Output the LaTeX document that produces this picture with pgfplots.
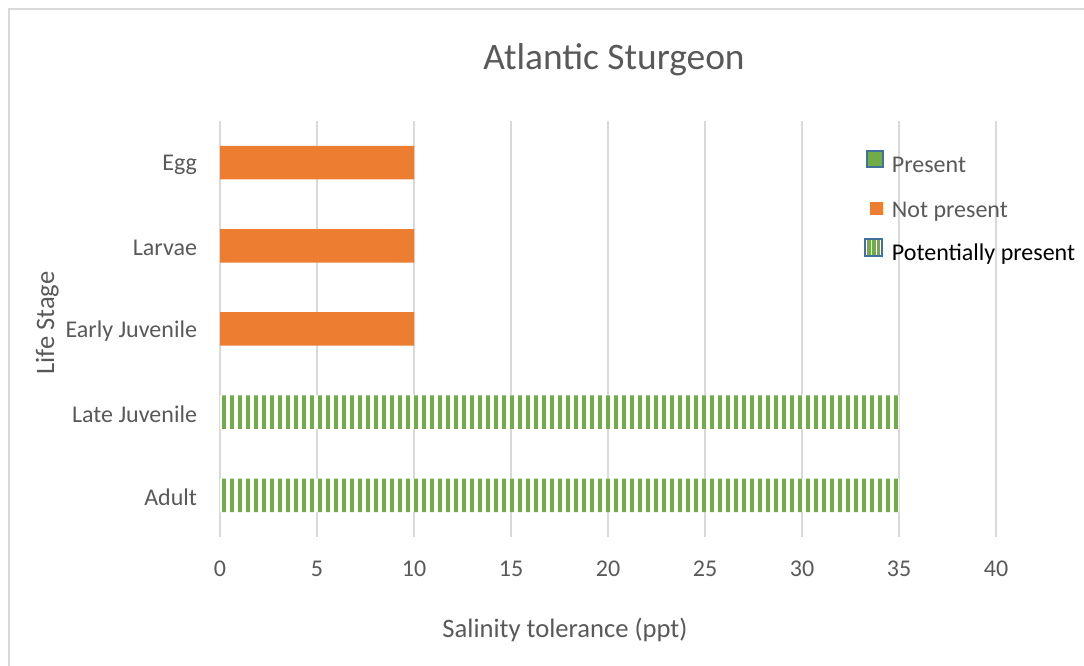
\documentclass[border=0pt]{standalone}
\usepackage{pgfplots}
\pgfplotsset{compat=1.18}
\usepackage{fontspec}
\setmainfont{Carlito}
\usetikzlibrary{patterns.meta}
\definecolor{cgreen}{HTML}{70AD47}
\definecolor{corange}{HTML}{ED7D31}
\definecolor{cblue}{HTML}{41719C}
\definecolor{ctext}{HTML}{595959}
\definecolor{cgrid}{HTML}{D9D9D9}
\definecolor{cborder}{HTML}{D9D9D9}
\begin{document}
\begin{tikzpicture}
\useasboundingbox (0,0) rectangle (542bp,333bp);
\fill[white] (0,0) rectangle (542bp,333bp);
\draw[cborder, line width=1bp] (4.25bp,-5bp) rectangle (550bp,328.5bp);
\begin{axis}[
  at={(110bp,64.5bp)}, anchor=south west,
  scale only axis, width=388bp, height=208bp,
  xbar, bar width=16.75bp, bar shift=0pt,
  xmin=0, xmax=40, ymin=-0.5, ymax=4.5,
  xtick={0,5,...,40}, ytick={0,1,2,3,4},
  yticklabels={Adult,Late Juvenile,Early Juvenile,Larvae,Egg},
  xmajorgrids, major grid style={cgrid, line width=1.1bp},
  axis line style={draw=none}, major tick length=0pt,
  tick label style={font=\fontsize{12bp}{14bp}\selectfont, text=ctext},
  /pgf/number format/assume math mode=true,
  xticklabel style={yshift=-8.5bp},
  yticklabel style={xshift=-8bp, yshift=-1bp},
  xlabel={Salinity tolerance (ppt)},
  xlabel style={at={(rel axis cs:0.4446,-0.2236)}, anchor=center, font=\fontsize{13.3bp}{16bp}\selectfont, text=ctext},
  ylabel={Life Stage},
  ylabel style={at={(rel axis cs:-0.2225,0.514)}, anchor=center, font=\fontsize{13.3bp}{16bp}\selectfont, text=ctext},
  title={Atlantic Sturgeon},
  title style={at={(rel axis cs:0.5077,1.1177)}, anchor=center, font=\fontsize{18.7bp}{22bp}\selectfont, text=ctext},
  legend cell align=left,
  legend style={at={(rel axis cs:0.8294,0.931)}, anchor=north west, draw=none, fill=none,
    inner sep=0pt, row sep=7.25bp, column sep=4bp,
    nodes={inner sep=0pt, text height=9bp, text depth=3bp, font=\fontsize{12bp}{14bp}\selectfont, text=ctext}},
]
\addlegendimage{legend image code/.code={\path (0,0) (9.5bp,0); \draw[fill=cgreen, draw=cblue, line width=1bp] (1.25bp,-0.2bp) rectangle (9.25bp,7.8bp);}}
\addlegendentry{Present}
\addplot[fill=corange, draw=none,
  legend image code/.code={\path (0,0) (9.5bp,0); \fill[corange] (3bp,-3.45bp) rectangle (9.5bp,3.05bp);}]
  coordinates {(10,2) (10,3) (10,4)};
\addlegendentry[text height=12bp]{Not present}
\addplot[forget plot, draw=none, preaction={fill=white},
  pattern={Lines[angle=90,distance=4bp,line width=2bp]}, pattern color=cgreen]
  coordinates {(35,0) (35,1)};
\addlegendimage{legend image code/.code={\path (0,0) (9.5bp,0);
    \fill[white] (0.5bp,-0.45bp) rectangle (9bp,8.05bp);
    \fill[cgreen] (1.7bp,0.4bp) rectangle (2.9bp,7.2bp);
    \fill[cgreen] (4.1bp,0.4bp) rectangle (5.3bp,7.2bp);
    \fill[cgreen] (6.5bp,0.4bp) rectangle (7.7bp,7.2bp);
    \draw[cblue, line width=1bp] (0.5bp,-0.45bp) rectangle (9bp,8.05bp);}}
\addlegendentry{\textcolor{black}{Potentially present}}
\end{axis}
\end{tikzpicture}
\end{document}
